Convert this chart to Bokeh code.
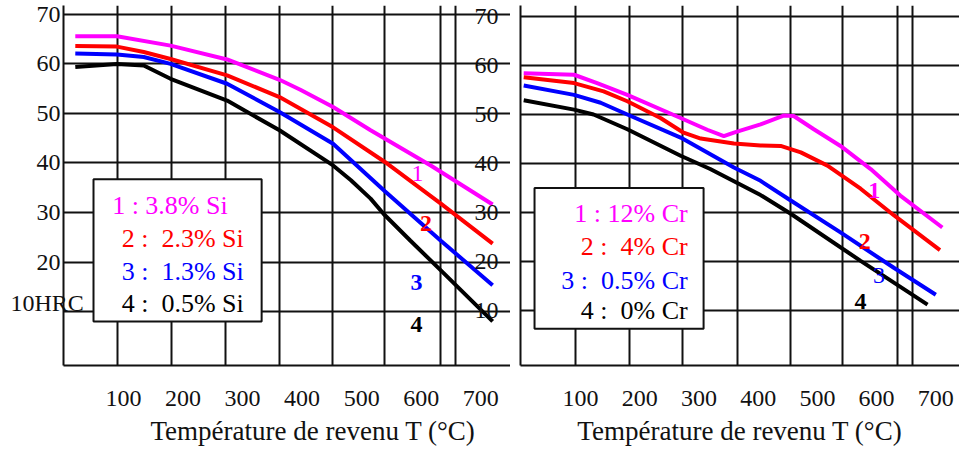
from bokeh.plotting import figure
from bokeh.layouts import row
from bokeh.models import FixedTicker, Title, ColumnDataSource, Range1d
from bokeh.core.properties import value
from bokeh.embed import file_html
from bokeh.resources import INLINE

# ---------------- data ----------------
x_ticks = [100, 200, 300, 400, 500, 600, 700]
hrc_ticks = [10, 20, 30, 40, 50, 60, 70]
hrc_unit_label = "10HRC"
x_title = "Température de revenu T (°C)"
colors = ["#ff00ff", "#ff0000", "#0000ff", "#000000"]

# Left panel: silicon steels
si1_T = [19, 89, 179, 274, 362, 397, 452, 515, 616, 720]
si1_hrc = [65.6, 65.6, 63.7, 60.9, 56.8, 54.8, 51.3, 46.6, 39.5, 31.6]
si2_T = [19, 89, 134, 179, 274, 362, 452, 539, 633, 720]
si2_hrc = [63.6, 63.5, 62.4, 61.0, 57.7, 53.3, 47.2, 40.2, 31.8, 23.7]
si3_T = [19, 89, 134, 179, 274, 362, 452, 539, 633, 720]
si3_hrc = [62.1, 61.9, 61.4, 60.0, 56.0, 50.3, 43.9, 34.3, 24.3, 15.3]
si4_T = [19, 89, 134, 179, 274, 362, 452, 482, 515, 537, 582, 633, 720]
si4_hrc = [59.4, 60.0, 59.7, 57.0, 52.6, 46.6, 39.5, 36.5, 32.8, 29.7, 24.3, 18.3, 8.0]
si_names = ["1 : 3.8% Si", "2 :\u00a0 2.3% Si", "3 :\u00a0 1.3% Si", "4 :\u00a0 0.5% Si"]

# Right panel: chromium steels
cr1_T = [4, 89, 128, 179, 269, 314, 342, 359, 404, 443, 460, 494, 539, 590, 640, 711]
cr1_hrc = [58.4, 58.1, 56.4, 54.0, 49.3, 46.9, 45.6, 46.3, 48.0, 49.8, 49.7, 47.0, 43.6, 38.9, 33.5, 27.0]
cr2_T = [4, 89, 139, 179, 235, 274, 303, 359, 404, 438, 472, 517, 573, 629, 707]
cr2_hrc = [57.6, 56.4, 54.7, 52.7, 49.3, 46.3, 45.1, 44.1, 43.7, 43.6, 42.3, 39.6, 34.9, 29.5, 22.4]
cr3_T = [4, 89, 134, 179, 269, 359, 404, 455, 539, 629, 700]
cr3_hrc = [55.9, 54.0, 52.4, 50.0, 45.3, 39.2, 36.5, 32.5, 26.0, 18.8, 13.3]
cr4_T = [4, 89, 122, 179, 269, 319, 404, 455, 573, 686]
cr4_hrc = [52.9, 51.0, 50.0, 47.0, 41.6, 38.9, 33.6, 29.8, 20.2, 11.3]
cr_names = ["1 : 12% Cr", "2 :\u00a0 4% Cr", "3 :\u00a0 0.5% Cr", "4 :\u00a0 0% Cr"]

curve_ids = ["1", "2", "3", "4"]

# ---------------- layout / style constants ----------------
SERIF = "Liberation Serif"
INK = "#111111"
left_grid_T = [90, 181, 272, 362, 451, 539, 633, 658]
right_grid_T = [91, 182, 273, 365, 455, 543, 635, 660]
LEFT_Y = (-0.9, 71.8)


def style(p, grid_T, ystandoff):
    p.outline_line_color = None
    p.background_fill_color = "white"
    p.xgrid.ticker = FixedTicker(ticks=grid_T)
    p.ygrid.ticker = FixedTicker(ticks=hrc_ticks)
    for g in (p.xgrid, p.ygrid):
        g.grid_line_color = INK
        g.grid_line_width = 2
    for ax in (p.xaxis[0], p.yaxis[0]):
        ax.axis_line_width = 2
        ax.axis_line_color = INK
        ax.major_tick_out = 0
        ax.major_tick_in = 0
        ax.minor_tick_out = 0
        ax.minor_tick_in = 0
        ax.major_label_text_font = SERIF
        ax.major_label_text_font_size = "24px"
        ax.major_label_text_color = INK
    p.xaxis[0].ticker = FixedTicker(ticks=x_ticks)
    p.xaxis[0].major_label_standoff = 25
    p.yaxis[0].ticker = FixedTicker(ticks=hrc_ticks)
    p.yaxis[0].major_label_standoff = ystandoff


def curves(p, Ts, Hs):
    for T, H, c in zip(Ts, Hs, colors):
        p.line(T, H, line_color=c, line_width=4)


def legend(p, box, xs, ys, names):
    p.quad(left=[box[0]], right=[box[1]], top=[box[2]], bottom=[box[3]],
           fill_color="white", line_color=INK, line_width=2)
    src = ColumnDataSource(dict(x=xs, y=ys, t=names, c=colors))
    p.text(x="x", y="y", text="t", text_color="c", source=src,
           text_font=value(SERIF), text_font_size="26px",
           text_align="right", text_baseline="middle")


def curve_labels(p, xs, ys, styles):
    for x, y, t, c, s in zip(xs, ys, curve_ids, colors, styles):
        p.text(x=[x], y=[y], text=[t], text_color=c, text_font=value(SERIF),
               text_font_size="24px", text_font_style=s,
               text_align="center", text_baseline="middle")


# ---------------- strip under the left axis (carries the "10HRC" tick text) ----------------
p0 = figure(width=90, height=454, output_backend="svg", toolbar_location=None,
            x_range=Range1d(-106.7, 44.5), y_range=Range1d(*LEFT_Y),
            min_border_left=0, min_border_right=0, min_border_top=5,
            min_border_bottom=89)
p0.axis.visible = False
p0.grid.visible = False
p0.outline_line_color = None
p0.text(x=[-90], y=[hrc_ticks[0]], text=[hrc_unit_label], text_color=INK,
        text_font=value(SERIF), text_font_size="24px", text_align="left",
        text_baseline="middle", y_offset=-9)

# ---------------- left panel ----------------
p1 = figure(width=510, height=454, output_backend="svg", toolbar_location=None,
            x_range=Range1d(-0.8, 750), y_range=Range1d(*LEFT_Y),
            min_border_left=63, min_border_right=0, min_border_top=5,
            min_border_bottom=89, margin=(0, 0, 0, -90))
style(p1, left_grid_T, 3)
p1.background_fill_color = None
p1.border_fill_color = None
p1.yaxis[0].major_label_overrides = {hrc_ticks[0]: ""}
curves(p1, [si1_T, si2_T, si3_T, si4_T], [si1_hrc, si2_hrc, si3_hrc, si4_hrc])
legend(p1, (49.6, 332, 36.7, 8.0), [275, 302, 302, 302], [31.4, 24.7, 18.1, 11.6], si_names)
curve_labels(p1, [594, 608, 592, 592], [37.8, 27.7, 15.9, 7.4],
             ["normal", "bold", "bold", "bold"])
p1.add_layout(Title(text=x_title, align="left", offset=87, text_font=SERIF,
                    text_font_size="27px", text_font_style="normal",
                    text_color=INK, standoff=11), "below")

# ---------------- right panel ----------------
p2 = figure(width=499, height=454, output_backend="svg", toolbar_location=None,
            x_range=Range1d(-1.4, 740), y_range=Range1d(-1.1, 72.2),
            min_border_left=60, min_border_right=0, min_border_top=5,
            min_border_bottom=86, margin=(0, 0, 0, -50))
style(p2, right_grid_T, 22)
p2.border_fill_color = None
curves(p2, [cr1_T, cr2_T, cr3_T, cr4_T], [cr1_hrc, cr2_hrc, cr3_hrc, cr4_hrc])
legend(p2, (22.3, 307.8, 35.05, 6.4), [281, 281, 281, 281], [29.8, 23.1, 16.3, 10.0], cr_names)
curve_labels(p2, [596, 580, 604, 573], [34.5, 24.2, 17.3, 12.0],
             ["bold", "bold", "normal", "bold"])
p2.add_layout(Title(text=x_title, align="center", text_font=SERIF,
                    text_font_size="27px", text_font_style="normal",
                    text_color=INK, standoff=11), "below")

layout = row(p0, p1, p2)
open("out.html", "w").write(file_html(layout, INLINE))
